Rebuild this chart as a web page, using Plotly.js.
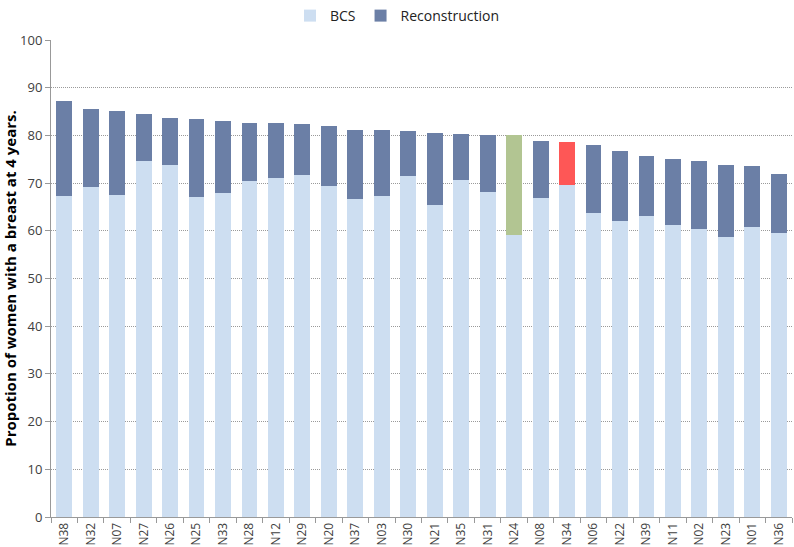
<!DOCTYPE html>
<html>
<head>
<meta charset="utf-8">
<script src="https://cdn.plot.ly/plotly-3.0.1.min.js"></script>
<style>html,body{margin:0;padding:0;background:#fff;}#chart{width:794px;height:547px;}</style>
</head>
<body>
<div id="chart"></div>
<script>
const categories = ["N38","N32","N07","N27","N26","N25","N33","N28","N12","N29","N20","N37","N03","N30","N21","N35","N31","N24","N08","N34","N06","N22","N39","N11","N02","N23","N01","N36"];
const bcs = [67.2,69.2,67.5,74.6,73.9,67.1,67.9,70.4,71.1,71.7,69.3,66.6,67.2,71.4,65.5,70.7,68.1,59.1,66.9,69.5,63.7,62.0,63.2,61.3,60.3,58.8,60.7,59.6];
const reconstruction = [20.1,16.4,17.7,9.8,9.8,16.3,15.1,12.3,11.6,10.6,12.6,14.6,14.0,9.6,15.1,9.6,12.0,21.0,12.0,9.2,14.3,14.7,12.4,13.7,14.3,15.0,12.8,12.4];
const highlight = {"N24": "#b2c592", "N34": "#fe5756"};
const yTicks = [0,10,20,30,40,50,60,70,80,90,100];

const reconColors = categories.map(c => highlight[c] || "#6b7fa6");

const traces = [
  {type: "bar", name: "BCS", x: categories, y: bcs, marker: {color: "#cddef1"}},
  {type: "bar", name: "Reconstruction", x: categories, y: reconstruction, marker: {color: reconColors}}
];

const layout = {
  width: 794, height: 547,
  margin: {l: 51, r: 2, t: 40, b: 30},
  barmode: "stack",
  bargap: 0.4,
  paper_bgcolor: "#fff", plot_bgcolor: "#fff",
  font: {family: "Open Sans, DejaVu Sans, sans-serif", size: 13, color: "#404040"},
  showlegend: true,
  legend: {orientation: "h", x: 0.5, xanchor: "center", xref: "container", y: 1, yanchor: "top", yref: "container",
           font: {size: 14, color: "#222"}, traceorder: "normal", itemwidth: 30},
  xaxis: {
    type: "category", tickangle: -90, tickson: "boundaries", ticks: "outside", ticklen: 5,
    tickcolor: "#999", showline: true, linecolor: "#999", showgrid: false,
    tickfont: {size: 12, color: "#404040"}
  },
  yaxis: {
    range: [0, 100], tickvals: yTicks, ticks: "outside", ticklen: 5, tickcolor: "#999",
    showline: true, linecolor: "#999", zeroline: false,
    showgrid: true, gridcolor: "#9a9a9a", griddash: "1px,1px", gridwidth: 1,
    tickfont: {size: 13, color: "#404040"},
    title: {text: "Propotion of women with a breast at 4 years.", font: {size: 15, color: "#000", weight: "bold"}, standoff: 10}
  }
};

Plotly.newPlot("chart", traces, layout, {displayModeBar: false, staticPlot: true});
</script>
</body>
</html>
